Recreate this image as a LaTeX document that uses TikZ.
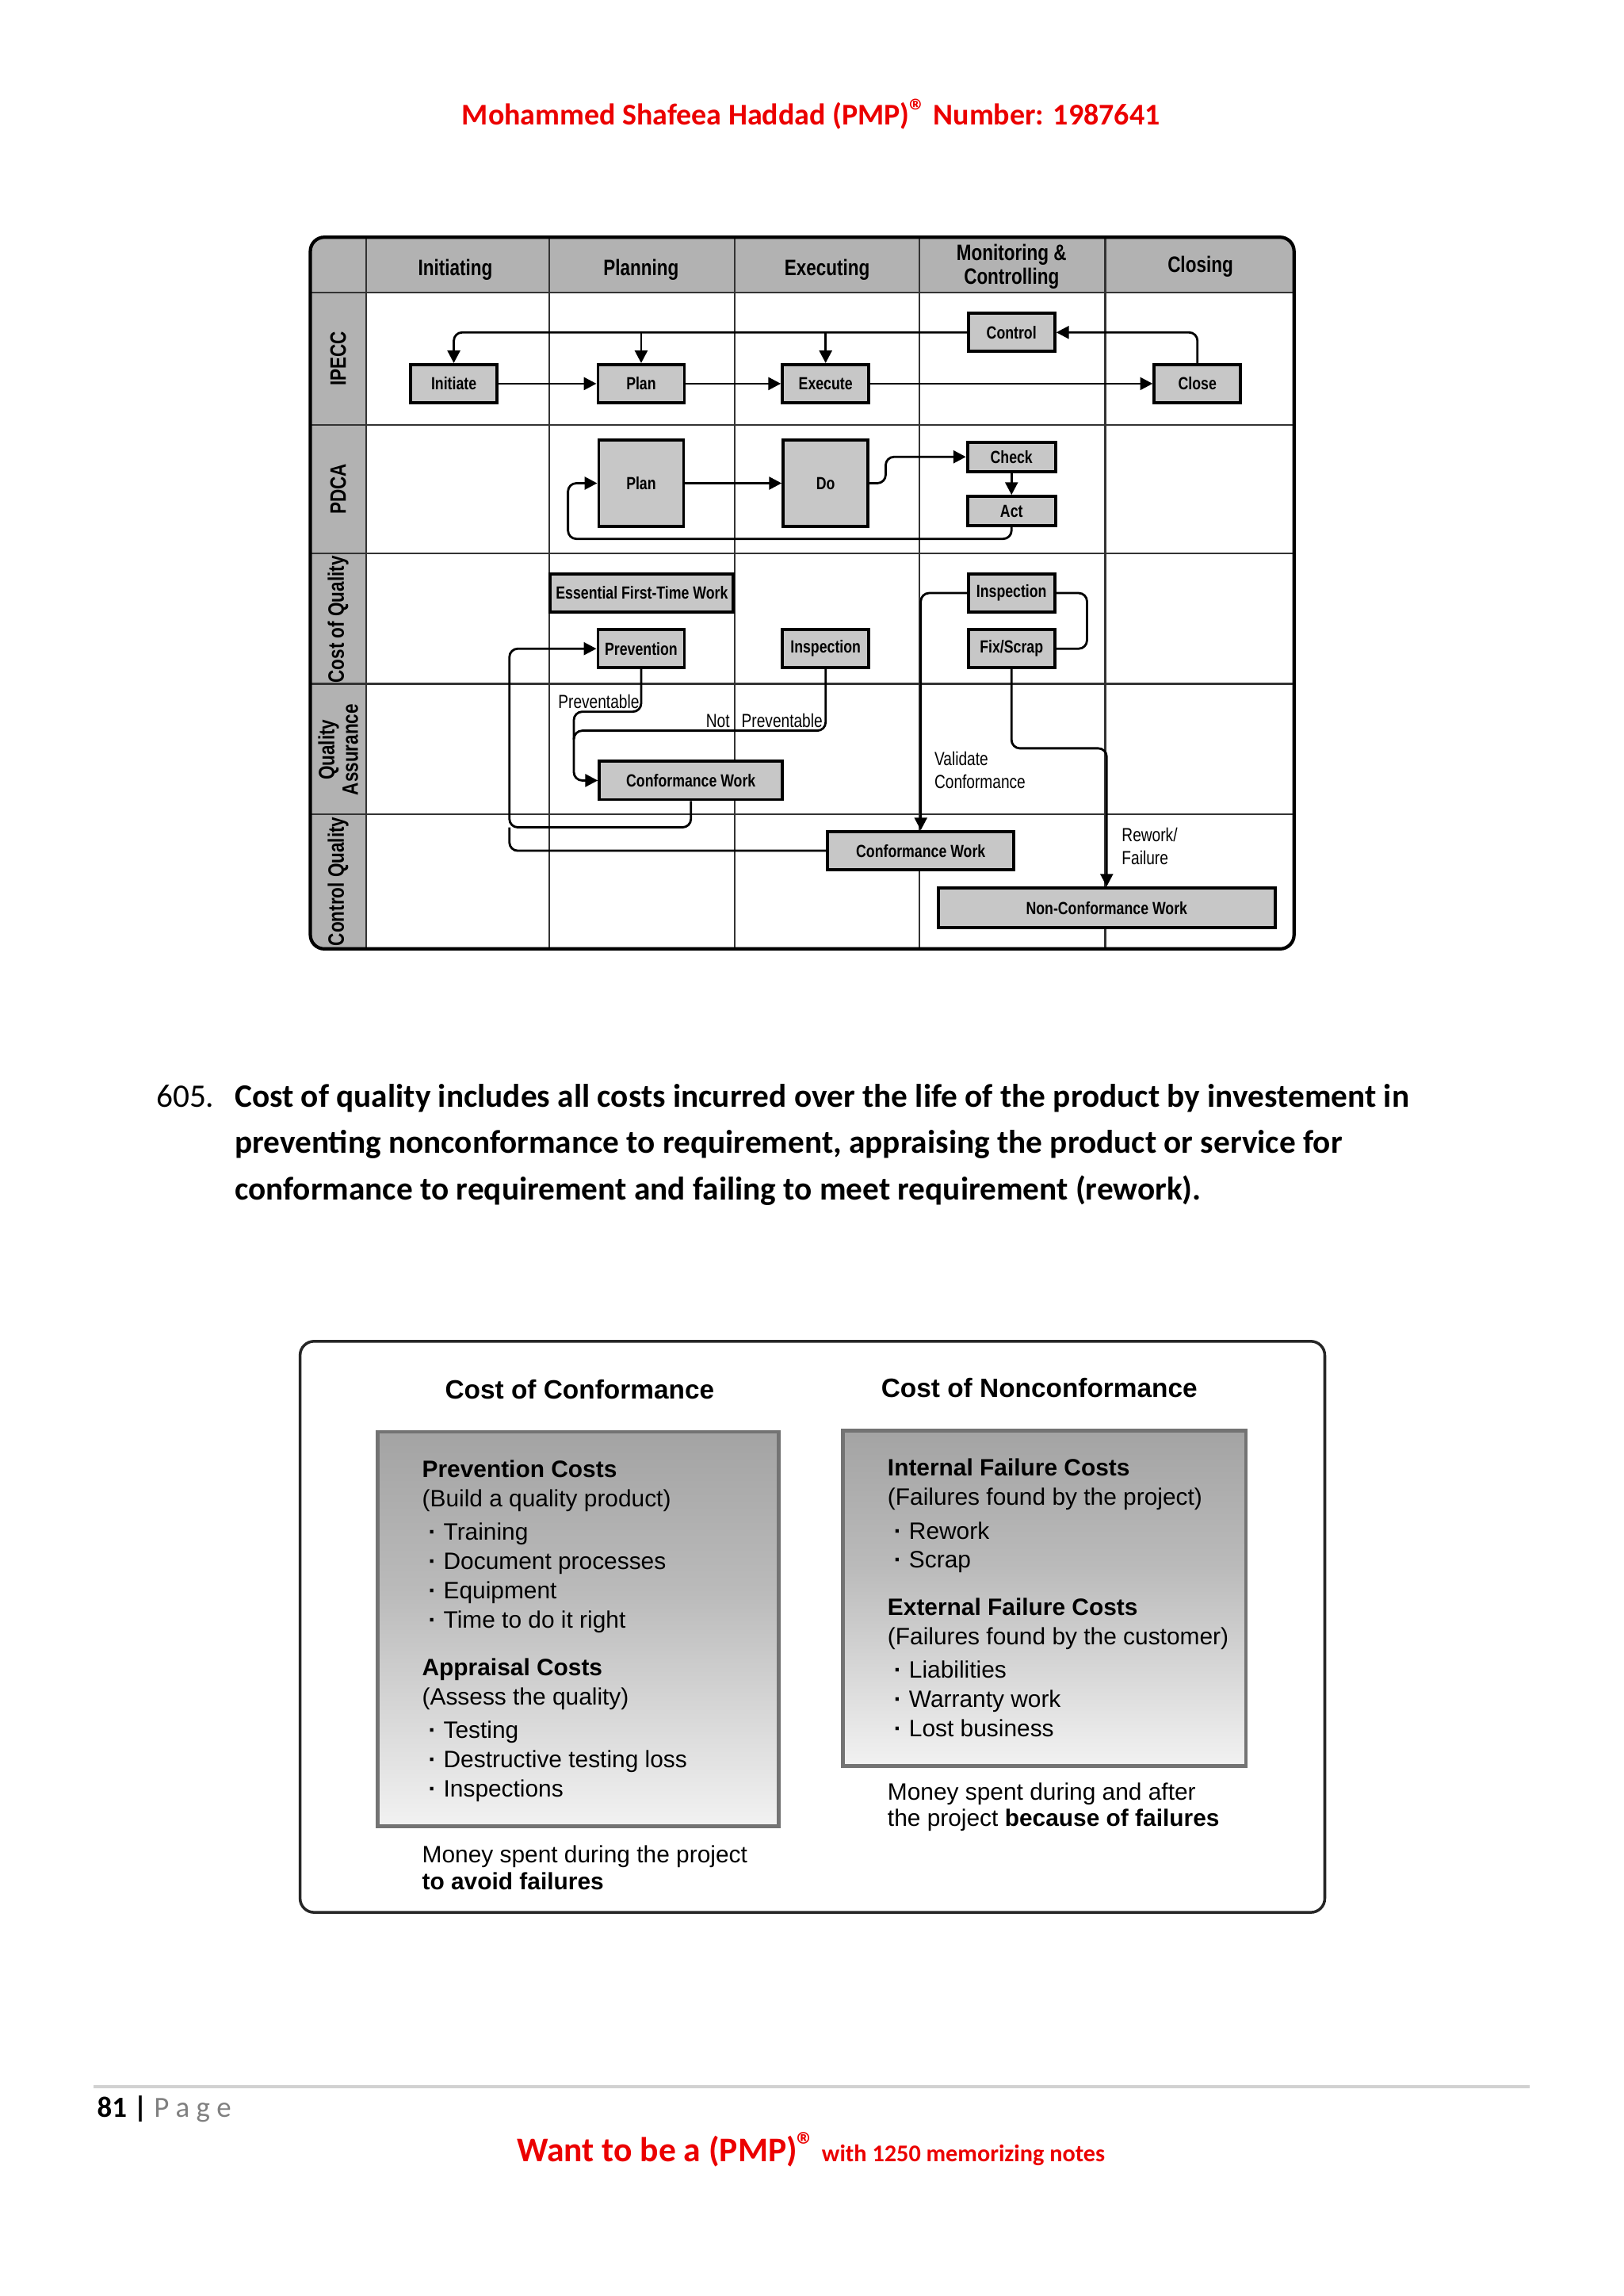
\documentclass[tikz,border=0pt]{standalone}
\usepackage{fontspec}
\setmainfont{Carlito}
\newfontfamily\narrowsf[FakeStretch=0.8]{Liberation Sans}
\newfontfamily\plainsf{Liberation Sans}
\usetikzlibrary{arrows.meta}
\definecolor{pmpred}{RGB}{235,0,0}
\pgfdeclareverticalshading{costfade}{100bp}{color(0bp)=(white); color(18bp)=(white); color(55bp)=(black!27); color(100bp)=(black!47)}
\newcommand{\itm}{\hspace*{0.08cm}\makebox[0.19cm][l]{\textbf{·}}}

\begin{document}
\begin{tikzpicture}[x=0.018467cm, y=-0.018467cm,
    grid/.style={line width=0.6pt, black!80},
    head/.style={font=\narrowsf\bfseries\fontsize{8}{8.5}\selectfont, align=center},
    box/.style={draw, line width=1.1pt, fill=black!22, inner sep=0pt, font=\narrowsf\bfseries\fontsize{6.3}{7.5}\selectfont},
    smallbox/.style={box, minimum width=1.09cm, minimum height=0.48cm},
    thinbox/.style={box, minimum width=1.11cm, minimum height=0.37cm},
    bigbox/.style={box, minimum width=1.07cm, minimum height=1.09cm},
    widebox/.style={box, minimum width=2.31cm, minimum height=0.48cm},
    flow/.style={line width=0.8pt, rounded corners=3pt},
    arr/.style={flow, -{Triangle[length=4.5pt,width=4.5pt]}},
    note/.style={font=\narrowsf\fontsize{6.8}{8.4}\selectfont, align=left, inner sep=0pt},
    title/.style={font=\plainsf\bfseries\fontsize{9.5}{11}\selectfont},
    costbox/.style={draw=black!55, line width=1.3pt, shade, shading=costfade},
    costtext/.style={font=\plainsf\fontsize{8.5}{10.5}\selectfont, align=left, inner sep=0pt, anchor=north west}]

    \useasboundingbox (0,0) rectangle (1109,1568);
    \fill[white] (0,0) rectangle (1109,1568);

    % page header
    \node[font=\bfseries\fontsize{10.8}{12}\selectfont, text=pmpred] (author) at (554,78)
        {Mohammed Shafeea Haddad (PMP)\raisebox{0.2ex}{\fontsize{12}{12}\selectfont ®} Number: 1987641};

    % process groups table
    \begin{scope}
        \clip[rounded corners=5pt] (212,162) rectangle (884,648);
        \fill[black!30] (212,162) rectangle (884,200);
        \fill[black!30] (212,200) rectangle (250,648);
    \end{scope}
    \draw[grid] (250,162) -- (250,648);
    \foreach \x in {375,502,628,755} {
        \draw[grid] (\x,162) -- (\x,648);
    }
    \foreach \y in {200,290,378,467,556} {
        \draw[grid] (212,\y) -- (884,\y);
    }
    \draw[line width=1.2pt, rounded corners=5pt] (212,162) rectangle (884,648);

    \node[head] (hInit) at (311,184) {Initiating};
    \node[head] (hPlan) at (438,184) {Planning};
    \node[head] (hExec) at (565,184) {Executing};
    \node[head] (hMon) at (691,182) {Monitoring \&\\Controlling};
    \node[head] (hClose) at (820,182) {Closing};

    \node[head, rotate=90] (rIpecc) at (231,245) {IPECC};
    \node[head, rotate=90] (rPdca) at (231,334) {PDCA};
    \node[head, rotate=90] (rCoq) at (231,423) {Cost of Quality};
    \node[head, rotate=90] (rQa) at (231,512) {Quality\\Assurance};
    \node[head, rotate=90] (rCq) at (231,602) {Control Quality};

    % IPECC
    \node[smallbox] (initiate) at (310,262) {Initiate};
    \node[smallbox] (planI) at (438,262) {Plan};
    \node[smallbox] (execute) at (564,262) {Execute};
    \node[smallbox] (control) at (691,227) {Control};
    \node[smallbox] (close) at (818,262) {Close};

    \draw[arr] (initiate) -- (planI);
    \draw[arr] (planI) -- (execute);
    \draw[arr] (execute) -- (close);
    \draw[arr] (close.north) |- (control.east);
    \draw[arr] (control.west) -| (initiate.north);
    \draw[arr] (planI.north |- control.west) -- (planI.north);
    \draw[arr] (execute.north |- control.west) -- (execute.north);

    % PDCA
    \node[bigbox] (planP) at (438,330) {Plan};
    \node[bigbox] (do) at (564,330) {Do};
    \node[thinbox] (check) at (691,312) {Check};
    \node[thinbox] (act) at (691,349) {Act};
    \coordinate (pdcaBack) at (388,368);

    \draw[arr] (planP) -- (do);
    \draw[arr] (do.east) -- ++(11,0) |- (check.west);
    \draw[arr] (check) -- (act);
    \draw[arr] (act.south) |- (pdcaBack) |- (planP.west);

    % cost of quality
    \node[widebox] (firstTime) at (438.5,405) {Essential First-Time Work};
    \node[smallbox] (prevention) at (438,443) {Prevention};
    \node[smallbox] (inspM) at (564,443) {Inspection};
    \node[smallbox] (inspR) at (691,405) {Inspection};
    \node[smallbox] (fix) at (691,443) {Fix/Scrap};

    % quality assurance / control quality
    \node[widebox] (confQ) at (472,533) {Conformance Work};
    \node[box, minimum width=2.35cm, minimum height=0.48cm] (confC) at (629,581) {Conformance Work};
    \node[box, minimum width=4.25cm, minimum height=0.5cm] (nonconf) at (756,620) {Non-Conformance Work};
    \coordinate (qaJoin) at (392,499);
    \coordinate (loopL) at (348,565);

    \draw[flow] (inspR.east) -- ++(21,0) |- (fix.east);
    \draw[arr] (inspR.west) -| (confC.north);
    \draw[arr] (fix.south) -- ++(0,54) -| (nonconf.north);
    \draw[arr] (prevention.south) -- ++(0,29) -| (qaJoin) |- (confQ.west);
    \draw[flow] (inspM.south) |- (qaJoin) -- ++(0,6);
    \draw[arr] (confQ.south) |- (loopL) |- (prevention.west);
    \draw[flow] (confC.west) -| (loopL);

    \node[note, anchor=west] (lblPrev) at (381,479) {Preventable};
    \node[note, anchor=west] (lblNotPrev) at (482,492) {Not\hspace{0.15cm}Preventable};
    \node[note, anchor=west] (lblValid) at (638,526) {Validate\\Conformance};
    \node[note, anchor=west] (lblRework) at (766,578) {Rework/\\Failure};

    % item text
    \node[anchor=base west, font=\fontsize{11.75}{13}\selectfont] (num) at (100,756) {605.};
    \node[anchor=north west, align=left, font=\bfseries\fontsize{11.75}{16.6}\selectfont, inner sep=0pt] (para) at (160,740)
        {Cost of quality includes all costs incurred over the life of the product by investement in\\
         preventing nonconformance to requirement, appraising the product or service for\\
         conformance to requirement and failing to meet requirement (rework).};

    % cost of conformance / nonconformance
    \draw[line width=1pt, black!85, rounded corners=5pt] (205,916) rectangle (905,1306);
    \node[title] (tConf) at (396,949) {Cost of Conformance};
    \node[title] (tNonc) at (710,948) {Cost of Nonconformance};

    \node[costbox, minimum width=5.06cm, minimum height=4.97cm] (conf) at (395,1112.5) {};
    \node[costbox, minimum width=5.08cm, minimum height=4.23cm] (nonc) at (713.5,1091.5) {};

    \node[costtext] (confList) at (288,997)
        {\textbf{Prevention Costs}\\
         (Build a quality product)\\[1.5pt]
         \itm Training\\
         \itm Document processes\\
         \itm Equipment\\
         \itm Time to do it right\\[6.5pt]
         \textbf{Appraisal Costs}\\
         (Assess the quality)\\[1.5pt]
         \itm Testing\\
         \itm Destructive testing loss\\
         \itm Inspections};
    \node[costtext] (noncList) at (606,996)
        {\textbf{Internal Failure Costs}\\
         (Failures found by the project)\\[1.5pt]
         \itm Rework\\
         \itm Scrap\\[6.5pt]
         \textbf{External Failure Costs}\\
         (Failures found by the customer)\\[1.5pt]
         \itm Liabilities\\
         \itm Warranty work\\
         \itm Lost business};

    \node[costtext, font=\plainsf\fontsize{8.5}{9.6}\selectfont] (confNote) at (288,1260)
        {Money spent during the project\\\textbf{to avoid failures}};
    \node[costtext, font=\plainsf\fontsize{8.5}{9.6}\selectfont] (noncNote) at (606,1217)
        {Money spent during and after\\the project \textbf{because of failures}};

    % page footer
    \draw[black!18, line width=1pt] (64,1425) -- (1045,1425);
    \node[anchor=base west, font=\fontsize{10.5}{12}\selectfont, inner sep=0pt] (pageNo) at (66,1446)
        {\textbf{81 |} \textcolor{black!50}{P a g e}};
    \node[text=pmpred, font=\bfseries] (want) at (554,1468)
        {{\fontsize{12.4}{14}\selectfont Want to be a (PMP)\raisebox{0.2ex}{\fontsize{13}{13}\selectfont ®}}
         {\fontsize{8.6}{10}\selectfont with 1250 memorizing notes}};
\end{tikzpicture}
\end{document}
